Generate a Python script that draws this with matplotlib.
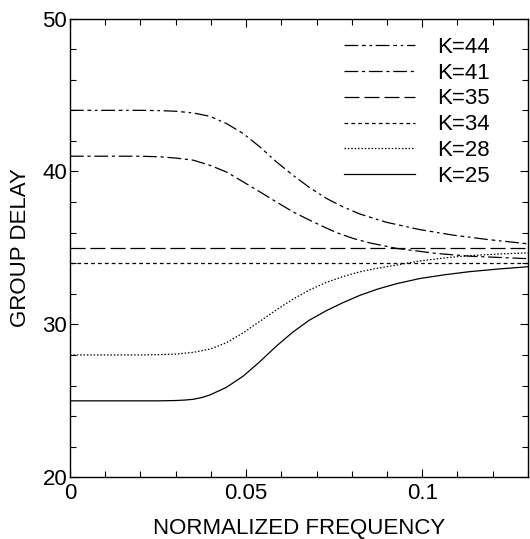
import matplotlib
matplotlib.use('Agg')
import matplotlib.pyplot as plt
from matplotlib.ticker import MultipleLocator

plt.rcParams['font.family'] = ['Liberation Sans', 'DejaVu Sans']

# --- DATA ---
freq_44 = [0.0, 0.01, 0.02, 0.0255, 0.030, 0.035, 0.0397, 0.0444, 0.0492, 0.0539, 0.0586, 0.0633,
           0.068, 0.0728, 0.0775, 0.0823, 0.0898, 0.0993, 0.1087, 0.1186, 0.13]
delay_44 = [44.0, 44.0, 44.0, 43.98, 43.94, 43.83, 43.61, 43.14, 42.48, 41.61, 40.63, 39.76,
            38.95, 38.24, 37.69, 37.22, 36.68, 36.2, 35.84, 35.55, 35.27]

freq_41 = [0.0, 0.01, 0.02, 0.0255, 0.030, 0.035, 0.0397, 0.0444, 0.0492, 0.0539, 0.0586, 0.0633,
           0.068, 0.0728, 0.0757, 0.0804, 0.0851, 0.0927, 0.104, 0.1135, 0.1286, 0.13]
delay_41 = [41.0, 41.0, 41.0, 40.96, 40.88, 40.74, 40.41, 39.97, 39.32, 38.67, 38.01, 37.36,
            36.82, 36.3, 36.0, 35.62, 35.33, 34.97, 34.64, 34.46, 34.31, 34.3]

freq_35 = [0.0, 0.13]
delay_35 = [35.0, 35.0]

freq_34 = [0.0, 0.13]
delay_34 = [34.0, 34.0]

freq_28 = [0.0, 0.01, 0.02, 0.0255, 0.030, 0.035, 0.0397, 0.0444, 0.0492, 0.0539, 0.0586, 0.0633,
           0.068, 0.0728, 0.0775, 0.0823, 0.0875, 0.0927, 0.0993, 0.1065, 0.1135, 0.1215, 0.13]
delay_28 = [28.0, 28.0, 28.0, 28.02, 28.06, 28.17, 28.38, 28.8, 29.45, 30.2, 30.95, 31.65,
            32.25, 32.75, 33.13, 33.44, 33.68, 33.88, 34.15, 34.35, 34.5, 34.6, 34.68]

freq_25 = [0.0, 0.01, 0.02, 0.0255, 0.030, 0.0325, 0.035, 0.0375, 0.0397, 0.0444, 0.0492, 0.0539,
           0.0586, 0.0633, 0.068, 0.0728, 0.0775, 0.0823, 0.0875, 0.0927, 0.0993, 0.1065, 0.1135,
           0.1215, 0.13]
delay_25 = [25.0, 25.0, 25.0, 25.0, 25.02, 25.05, 25.1, 25.22, 25.38, 25.88, 26.62, 27.56,
            28.58, 29.5, 30.28, 30.9, 31.42, 31.9, 32.32, 32.66, 33.0, 33.25, 33.45, 33.62, 33.77]

series = [
    ('K=44', freq_44, delay_44, (0, (11, 3, 3, 3, 2, 3))),
    ('K=41', freq_41, delay_41, (0, (11, 3, 2.5, 3))),
    ('K=35', freq_35, delay_35, (0, (12, 4))),
    ('K=34', freq_34, delay_34, (0, (3, 2.5))),
    ('K=28', freq_28, delay_28, (0, (1.2, 1.5))),
    ('K=25', freq_25, delay_25, '-'),
]

fig = plt.figure(figsize=(5.30, 5.39), dpi=100)
ax = fig.add_axes([0.132, 0.1145, 0.864, 0.851])

for label, x, y, ls in series:
    ax.plot(x, y, color='black', linestyle=ls, linewidth=0.9, label=label)

ax.set_xlim(0, 0.13)
ax.set_ylim(20, 50)
ax.xaxis.set_minor_locator(MultipleLocator(0.01))
ax.yaxis.set_major_locator(MultipleLocator(10))
ax.yaxis.set_minor_locator(MultipleLocator(2))
ax.set_xticks([0, 0.05, 0.1])
ax.set_xticklabels(['0', '0.05', '0.1'])

ax.tick_params(which='both', direction='in', top=True, right=True, labelsize=16)
ax.tick_params(which='major', length=6, width=0.8)
ax.tick_params(which='minor', length=4, width=0.8)
ax.tick_params(axis='x', pad=4)
ax.tick_params(axis='y', pad=2)
for s in ax.spines.values():
    s.set_linewidth(1.0)

ax.set_xlabel('NORMALIZED FREQUENCY', fontsize=16, labelpad=10)
ax.set_ylabel('GROUP DELAY', fontsize=16, labelpad=8)

ax.legend(loc='upper right', bbox_to_anchor=(0.936, 0.980), borderaxespad=0,
          frameon=False, fontsize=16, handlelength=3.2, handletextpad=1.0,
          labelspacing=0.22)

fig.savefig('out.png', dpi=100)
